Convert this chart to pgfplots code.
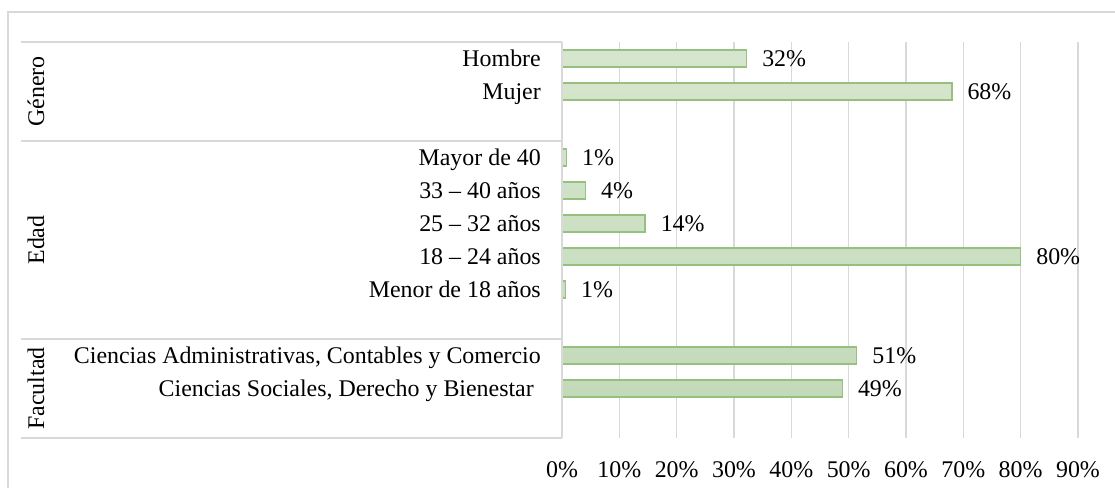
\documentclass[border=0pt]{standalone}
\usepackage{fontspec}
\setmainfont{Liberation Serif}
\usepackage{pgfplots}
\usepackage{pgfplotstable}
\pgfplotsset{compat=1.18}
\definecolor{gridgray}{RGB}{217,217,217}
\definecolor{bartop}{RGB}{214,230,206}
\definecolor{barbot}{RGB}{195,218,185}
\definecolor{baredge}{RGB}{150,192,128}
\newcommand{\lf}{\fontsize{24}{28}\selectfont}
\pgfplotstableread{
y val lab
0 32.2 32
1 68.0 68
3 0.8 1
4 4.1 4
5 14.5 14
6 80.0 80
7 0.6 1
9 51.4 51
10 48.9 49
}\datatab
\begin{document}
\begin{tikzpicture}
\useasboundingbox (0,0) rectangle (1115bp,488bp);
\draw[gridgray, line width=1.5bp] (8bp,0) -- (8bp,476bp) -- (1115bp,476bp);
\begin{axis}[
  at={(562bp,50bp)}, anchor=south west,
  width=516bp, height=396bp, scale only axis,
  xmin=0, xmax=90, ymin=-0.5, ymax=11.5, y dir=reverse,
  clip=false,
  axis line style={draw=none},
  xtick={0,10,...,90},
  xticklabel={\pgfmathprintnumber{\tick}\%},
  xticklabel style={font=\lf, anchor=base, yshift=-39bp, inner sep=0pt},
  ytick={0,1,3,4,5,6,7,9,10},
  yticklabels={Hombre, Mujer, Mayor de 40, 33 – 40 años, 25 – 32 años, 18 – 24 años, Menor de 18 años, {Ciencias Administrativas, Contables y Comercio}, {Ciencias Sociales, Derecho y Bienestar\rule{7bp}{0pt}}},
  yticklabel style={font=\lf, anchor=base east, inner sep=0pt, xshift=-21bp, yshift=-8bp},
  major tick length=0pt,
  tick style={draw=none},
  xmajorgrids, grid style={gridgray, line width=1.5bp},
  /pgf/number format/assume math mode=true,
]
\addplot[xbar, bar width=17bp, draw=baredge, line width=1.3bp, top color=bartop, bottom color=barbot,
  point meta=explicit symbolic,
  nodes near coords={\pgfplotspointmeta\%},
  nodes near coords style={font=\lf, anchor=base west, inner sep=0pt, xshift=15bp, yshift=-8bp, text=black}]
  table[x=val, y=y, meta=lab] {\datatab};
\draw[gridgray, line width=1.5bp] (axis cs:0,-0.5) -- (axis cs:0,11.5);
\draw[gridgray, line width=1.5bp] ([xshift=-541bp]axis cs:0,-0.5) -- (axis cs:0,-0.5);
\draw[gridgray, line width=1.5bp] ([xshift=-541bp]axis cs:0,2.5) -- (axis cs:0,2.5);
\draw[gridgray, line width=1.5bp] ([xshift=-541bp]axis cs:0,8.5) -- (axis cs:0,8.5);
\draw[gridgray, line width=1.5bp] ([xshift=-541bp]axis cs:0,11.5) -- (axis cs:0,11.5);
\node[rotate=90, font=\lf, inner sep=0pt] at ([xshift=-526bp]axis cs:0,1) {Género};
\node[rotate=90, font=\lf, inner sep=0pt] at ([xshift=-526bp]axis cs:0,5.5) {Edad};
\node[rotate=90, font=\lf, inner sep=0pt] at ([xshift=-526bp]axis cs:0,10) {Facultad};
\end{axis}
\end{tikzpicture}
\end{document}
